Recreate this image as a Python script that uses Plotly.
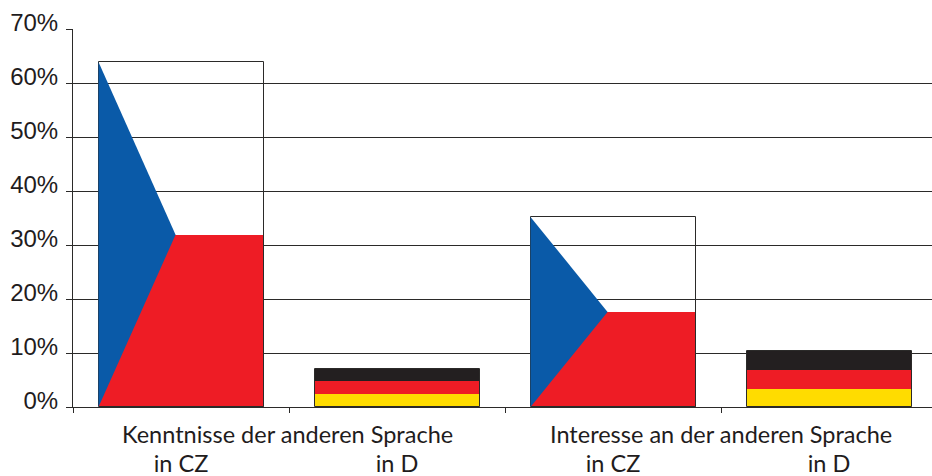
import plotly.graph_objects as go

categories = ["in CZ", "in D", "in CZ", "in D"]
groups = ["Kenntnisse der anderen Sprache", "Interesse an der anderen Sprache"]
group_positions = [1, 3]
positions = [0.5, 1.5, 2.5, 3.5]
cz_positions = [0.5, 2.5]
de_positions = [1.5, 3.5]
cz_totals = [63.9, 35.2]
cz_red = [31.9, 17.6]
de_yellow = [2.4, 3.4]
de_red = [2.4, 3.5]
de_black = [2.3, 3.4]
y_ticks = [0, 10, 20, 30, 40, 50, 60, 70]
y_labels = ["0%", "10%", "20%", "30%", "40%", "50%", "60%", "70%"]

BAR_W = 165 / 216
APEX = 0.467
INK = "#2b2a29"
BLUE = "#0a5aa8"
RED = "#ee1c25"
YELLOW = "#ffdc00"
BLACK = "#231f20"

fig = go.Figure()
line = dict(color=INK, width=1)
fig.add_bar(x=cz_positions, y=cz_red, width=BAR_W, marker=dict(color=RED, line=dict(width=0)), showlegend=False)
fig.add_bar(x=cz_positions, y=cz_totals, width=BAR_W, marker=dict(color="rgba(0,0,0,0)", line=line), showlegend=False)
fig.add_bar(x=de_positions, y=de_yellow, width=BAR_W, marker=dict(color=YELLOW, line=dict(width=0)), showlegend=False)
fig.add_bar(x=de_positions, y=de_red, base=de_yellow, width=BAR_W, marker=dict(color=RED, line=dict(width=0)), showlegend=False)
fig.add_bar(x=de_positions, y=de_black, base=[a + b for a, b in zip(de_yellow, de_red)], width=BAR_W,
            marker=dict(color=BLACK, line=dict(width=0)), showlegend=False)
fig.add_bar(x=de_positions, y=[a + b + c for a, b, c in zip(de_yellow, de_red, de_black)], width=BAR_W,
            marker=dict(color="rgba(0,0,0,0)", line=line), showlegend=False)
for pos, total, half in zip(cz_positions, cz_totals, cz_red):
    left = pos - BAR_W / 2
    fig.add_scatter(x=[left, left + APEX * BAR_W, left, left], y=[total, half, 0, total], mode="lines",
                    fill="toself", fillcolor=BLUE, line=dict(width=0), hoverinfo="skip", showlegend=False)

label_font = dict(family="Lato", size=23.5, color="#1f1c1d")
for text, pos, shift in zip(groups, group_positions, [-2, 0]):
    fig.add_annotation(x=pos, y=0, xref="x", yref="y", text=text, showarrow=False, yanchor="top", yshift=-11, xshift=shift,
                       font=label_font)

fig.update_layout(
    width=932, height=476, autosize=False, barmode="overlay", bargap=0,
    margin=dict(l=73, r=0, t=29, b=69, autoexpand=False), paper_bgcolor="white", plot_bgcolor="white",
    xaxis=dict(range=[0, 859 / 216], tickmode="array", tickvals=positions, ticktext=categories, ticks="", showgrid=False,
               showline=True, linecolor=INK, linewidth=1, zeroline=False, tickfont=label_font, ticklabelstandoff=36, automargin=False,
               minor=dict(tickmode="array", tickvals=[0, 1, 2, 3], ticks="outside", ticklen=5, tickcolor=INK, tickwidth=1, showgrid=False)),
    yaxis=dict(range=[0, 70], tickmode="array", tickvals=y_ticks, ticktext=y_labels, ticks="outside", ticklen=6, tickcolor=INK,
               tickwidth=1, showgrid=True, gridcolor=INK, gridwidth=1, showline=True, linecolor=INK, linewidth=1, zeroline=False, automargin=False,
               tickfont=dict(family="Liberation Sans", size=24, color="#1f1c1d"), ticklabelshift=-6, ticklabelstandoff=3),
)
fig.write_html("out.html", config=dict(displayModeBar=False),
               post_script="document.body.style.margin='0';document.body.style.overflow='hidden';")
